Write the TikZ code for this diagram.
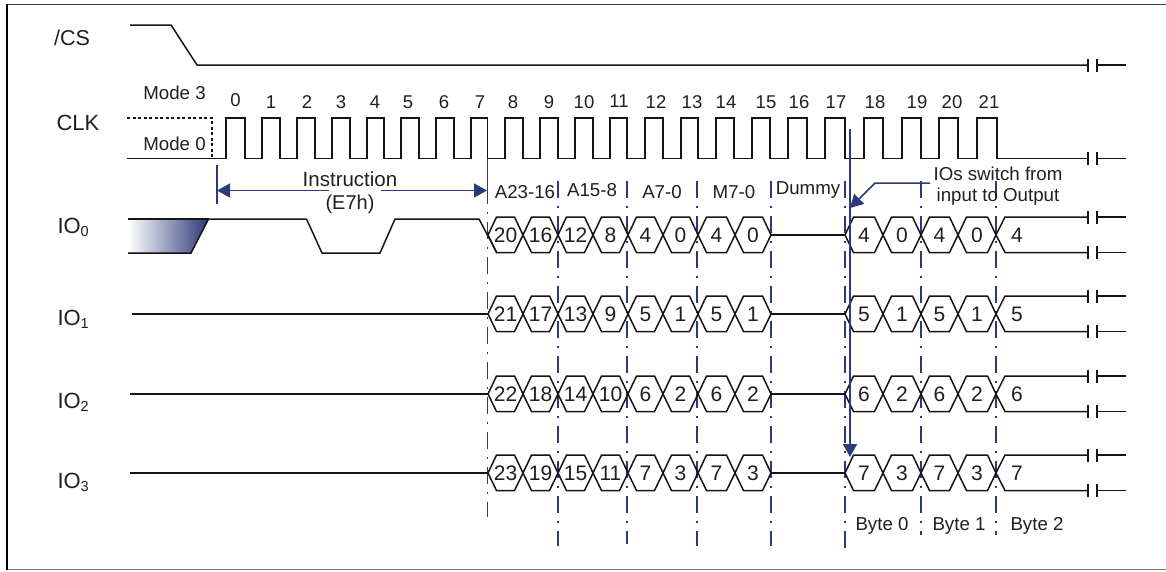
\documentclass[tikz,border=0pt]{standalone}
\usepackage{fontspec}
\setmainfont{Liberation Sans}
\usetikzlibrary{arrows.meta}
\definecolor{navy}{HTML}{2B3A78}
\newcommand\fs[1]{\fontsize{#1}{#1}\selectfont}
\newcommand\iolabel[3]{\node[txt,anchor=base west,font=\fs{22}] (#1) at (57.5,#2) {IO\raisebox{-3.5pt}{\fs{14.5}#3}};}
\newcommand\brk[2]{%
  \draw[wave] (#1,#2-6.5) -- (#1,#2+6.5);
  \draw[wave] (#1+9,#2-6.5) -- (#1+9,#2+6.5);
  \draw[wave] (#1+9,#2) -- (1126,#2);}
\newcommand\hexes[2]{%
  \foreach \a/\b/\t in {#2} {
    \draw[wave,line join=miter] (\a,#1) -- (\a+8.5,#1-18) -- (\b-8.5,#1-18) -- (\b,#1) -- (\b-8.5,#1+17.5) -- (\a+8.5,#1+17.5) -- cycle;
    \node[txt,font=\fs{21}] (h#1x\a) at ({(\a+\b)/2},#1+0.5) {\t};
  }}
\newcommand\tail[2]{%
  \draw[wave] (996,#1) -- (1005,#1-18) -- (1088,#1-18);
  \draw[wave] (996,#1) -- (1005,#1+17.5) -- (1088,#1+17.5);
  \brk{1088}{#1-18}
  \brk{1088}{#1+17.5}
  \node[txt,font=\fs{21}] (t#1) at (1017,#1+0.5) {#2};}
\tikzset{
  wave/.style={line width=1.5pt,draw=black!92},
  txt/.style={inner sep=0pt,outer sep=0pt,text=black!88},
  lbl/.style={txt,font=\fs{18.7}},
  num/.style={txt,font=\fs{18.5}},
  guide/.style={draw=navy,line width=1.4pt,dash pattern=on 17pt off 8pt on 2pt off 8pt},
  navyline/.style={draw=navy,line width=1.5pt},
  tip/.style={-{Triangle[length=13pt,width=14pt]}}
}
\begin{document}
\begin{tikzpicture}[x=1pt,y=-1pt]
\useasboundingbox (0,0) rectangle (1166,571);
% frame
\draw[black!75,line width=1.4pt] (7,4.5) -- (1166,4.5);
\draw[black!55,line width=1.2pt] (7,569.5) -- (1166,569.5);
\draw[black,line width=1.7pt] (7,4) -- (7,570);
% guides
\draw[guide] (487.5,187) -- (487.5,517);
\draw[navyline] (487.5,152) -- (487.5,187);
\foreach \x/\e in {558/546,627/544,697/546,771/546,845/548,921/535,996/535}
  \draw[guide] (\x,180.5) -- (\x,\e);
% labels
\node[txt,font=\fs{21.5}] (cs) at (72,38) {/CS};
\node[txt,font=\fs{22}] (clk) at (78,123) {CLK};
\iolabel{io0}{233}{0}
\iolabel{io1}{325}{1}
\iolabel{io2}{408}{2}
\iolabel{io3}{488}{3}
\node[lbl] (m3) at (174.5,93) {Mode 3};
\node[lbl] (m0) at (174.5,144) {Mode 0};
% CS
\draw[wave] (130,25) -- (171,25) -- (197,65) -- (1088,65);
\brk{1088}{65}
% CLK
\draw[draw=black!92,line width=1.2pt,dash pattern=on 3pt off 2.5pt] (127,118) -- (212,118) -- (212,158.5);
\draw[wave] (127,158.5) -- (226,158.5)
  \foreach \r/\f in {245/262,280/297,315/332,350/367,384/401,419/436,454/471,487.5/505,523/540,558/575,593/610,627/645,663/681,698/716,734/752,770/788,807/825,845/864,883/902,921/939,958/977} {
    -- ++(0,-40.5) -- (\r,118) -- (\r,158.5) -- (\f,158.5)
  }
  -- (977,118) -- (997,118) -- (997,158.5) -- (1088,158.5);
\brk{1088}{158.5}
\foreach \n/\x/\y in {0/235.5/100,1/271/102,2/307/102,3/341/102,4/375/102,5/408/102,6/444/102,7/480/102,8/513/102,9/549/102,10/584/102,11/619/101,12/656/102,13/692/102,14/726/102,15/766/102,16/799/102,17/836/102,18/875/102,19/917/102,20/952/102,21/989/102}
  \node[num] (c\n) at (\x,\y) {\n};
% IO0 start
\shade[left color=white,right color=navy] (128,219) -- (208.5,219) -- (191,253) -- (128,253) -- cycle;
\draw[wave] (128,253) -- (191,253) -- (208.5,219) -- (306.5,219) -- (322,253) -- (380,253) -- (395,219) -- (479,219) -- (497,253);
\draw[wave] (128,219) -- (208.5,219);
% other IO starts
\draw[wave] (132,314) -- (488,314);
\draw[wave] (130,394) -- (488,394);
\draw[wave] (130,473) -- (488,473);
% data
\hexes{235}{488/523/20,523/558/16,558/593/12,593/628/8,628/663/4,663/698/0,698/735/4,735/771/0,845/883/4,883/921/0,921/958/4,958/996/0}
\hexes{314}{488/523/21,523/558/17,558/593/13,593/628/9,628/663/5,663/698/1,698/735/5,735/771/1,845/883/5,883/921/1,921/958/5,958/996/1}
\hexes{394}{488/523/22,523/558/18,558/593/14,593/628/10,628/663/6,663/698/2,698/735/6,735/771/2,845/883/6,883/921/2,921/958/6,958/996/2}
\hexes{473}{488/523/23,523/558/19,558/593/15,593/628/11,628/663/7,663/698/3,698/735/7,735/771/3,845/883/7,883/921/3,921/958/7,958/996/3}
\foreach \y in {235,314,394,473} \draw[wave] (771,\y) -- (845,\y);
\tail{235}{4}
\tail{314}{5}
\tail{394}{6}
\tail{473}{7}
% instruction arrow
\draw[navyline] (217,165) -- (217,204);
\coordinate (il) at (217,190.5);
\coordinate (ir) at (487,190.5);
\coordinate (iml) at (329,190.5);
\coordinate (imr) at (381,190.5);
\draw[navyline,tip] (iml) -- (il);
\draw[navyline,tip] (imr) -- (ir);
\node[txt,font=\fs{20.5}] (ins) at (350,179) {Instruction};
\node[txt,font=\fs{20}] (e7h) at (350,204) {(E7h)};
% field labels
\node[lbl] (f1) at (525,192) {A23-16};
\node[lbl] (f2) at (592,190) {A15-8};
\node[lbl] (f3) at (662,192) {A7-0};
\node[lbl] (f4) at (734,192) {M7-0};
\node[lbl] (f5) at (808,190) {Dummy};
\node[lbl] (sw1) at (998,174) {IOs switch from};
\node[lbl] (sw2) at (998,197) {input to  Output};
\node[lbl] (b0) at (882,526) {Byte 0};
\node[lbl] (b1) at (959,526) {Byte 1};
\node[lbl] (b2) at (1037,526) {Byte 2};
% switch arrows
\coordinate (vt) at (850,129);
\coordinate (vb) at (850,457);
\coordinate (dt) at (930,183);
\coordinate (dm) at (875,183);
\coordinate (db) at (850,208);
\draw[navyline,tip,line width=1.8pt] (vt) -- (vb);
\draw[navyline,tip] (dt) -- (dm) -- (db);
\end{tikzpicture}
\end{document}
